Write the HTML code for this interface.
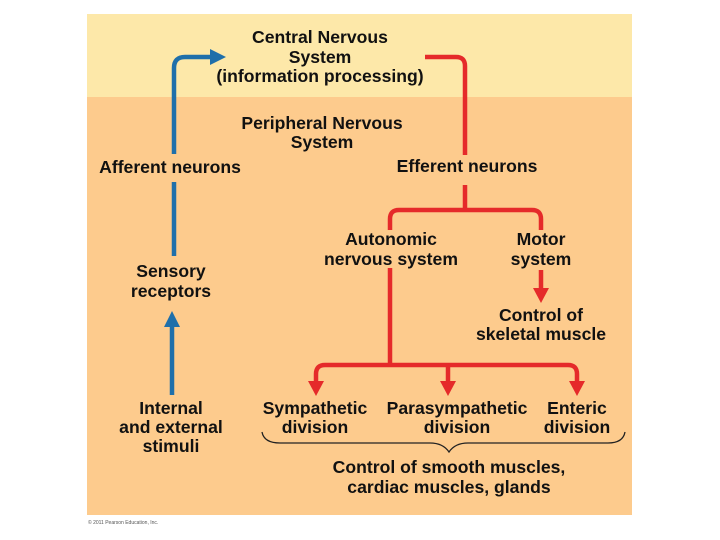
<!DOCTYPE html>
<html><head><meta charset="utf-8"><style>
html,body{margin:0;padding:0;background:#fff;}
svg{display:block;}
text{font-family:"Liberation Sans",Arial,sans-serif;font-weight:bold;font-size:17.6px;fill:#111;text-anchor:middle;}
</style></head><body>
<svg width="720" height="540" viewBox="0 0 720 540" xmlns="http://www.w3.org/2000/svg">
<rect x="87" y="14" width="545" height="501" fill="#FDCB8D"/>
<rect x="87" y="14" width="545" height="83" fill="#FDE8A9"/>
<g fill="none" stroke-width="4.5">
<path d="M174 256 V182 M174 154 V68 Q174 57 185 57 H212" stroke="#1F6FAA"/>
<path d="M172 395 V324" stroke="#1F6FAA"/>
<path d="M425 57 H456 Q465 57 465 66 V155 M465 185 V210 M390 230 V219 Q390 210 399 210 H532 Q541 210 541 219 V230 M390 268 V365 M541 270 V290 M316 385 V374 Q316 365 325 365 H568 Q577 365 577 374 V385 M448 365 V385" stroke="#E52A2A"/>
</g>
<g fill="#1F6FAA"><polygon points="226,57 210,49 210,65"/><polygon points="172,311 164,327 180,327"/></g>
<g fill="#E52A2A"><polygon points="541,303 533,288 549,288"/><polygon points="316,396 308,381 324,381"/><polygon points="448,396 440,381 456,381"/><polygon points="577,396 569,381 585,381"/></g>
<path d="M262 432 Q264 443 280 443 H430 Q443 443 449 452 Q455 443 468 443 H608 Q623 443 625 432" fill="none" stroke="#222" stroke-width="1.3"/>
<text x="320" y="43">Central Nervous</text>
<text x="320" y="63">System</text>
<text x="320" y="82">(information processing)</text>
<text x="322" y="129">Peripheral Nervous</text>
<text x="322" y="148">System</text>
<text x="170" y="173">Afferent neurons</text>
<text x="467" y="172">Efferent neurons</text>
<text x="391" y="245">Autonomic</text>
<text x="391" y="265">nervous system</text>
<text x="541" y="245">Motor</text>
<text x="541" y="265">system</text>
<text x="171" y="277">Sensory</text>
<text x="171" y="297">receptors</text>
<text x="541" y="321">Control of</text>
<text x="541" y="340">skeletal muscle</text>
<text x="171" y="414">Internal</text>
<text x="171" y="433">and external</text>
<text x="171" y="452">stimuli</text>
<text x="315" y="414">Sympathetic</text>
<text x="315" y="433">division</text>
<text x="457" y="414">Parasympathetic</text>
<text x="457" y="433">division</text>
<text x="577" y="414">Enteric</text>
<text x="577" y="433">division</text>
<text x="449" y="473">Control of smooth muscles,</text>
<text x="449" y="493">cardiac muscles, glands</text>
<text x="88" y="524" style="font-size:5px;font-weight:normal;text-anchor:start;fill:#555">© 2011 Pearson Education, Inc.</text>
</svg>
</body></html>
